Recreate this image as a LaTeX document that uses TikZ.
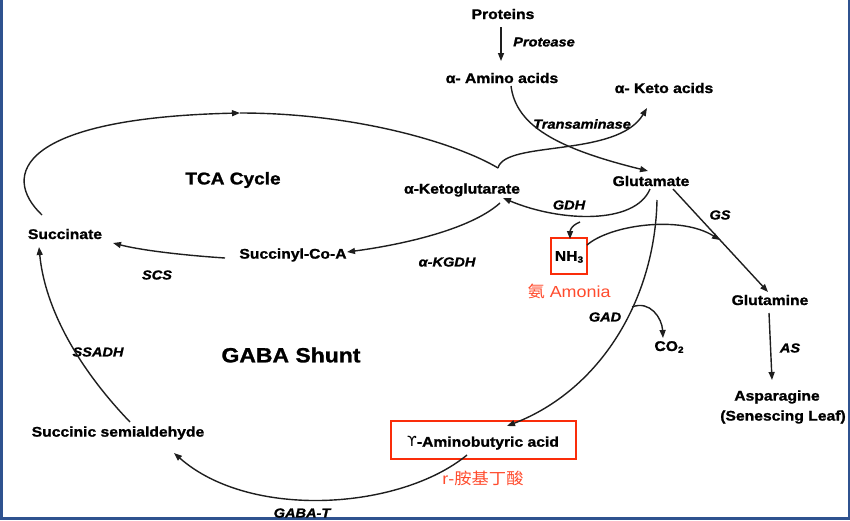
\documentclass[tikz,border=0pt]{standalone}
\usepackage{fontspec}
\setmainfont{Liberation Sans}
\newfontfamily\labfont[FakeStretch=1.12, BoldFeatures={FakeBold=1.3}, BoldItalicFeatures={FakeBold=1.3}]{Liberation Sans}
\newfontfamily\cjkfont[FakeStretch=1.08]{Noto Sans CJK SC}
\newfontfamily\dejavu{DejaVu Sans}
\usetikzlibrary{arrows.meta}
\definecolor{borderB}{RGB}{47,82,143}
\definecolor{redB}{RGB}{250,45,10}
\definecolor{redT}{RGB}{255,75,45}
\definecolor{lineC}{RGB}{30,30,30}
\tikzset{
  lbl/.style={font=\labfont\bfseries\fontsize{14}{16}\selectfont, inner sep=0pt},
  enz/.style={font=\labfont\bfseries\itshape\fontsize{13}{15}\selectfont, inner sep=0pt},
  ttl/.style={font=\labfont\bfseries\fontsize{17}{19}\selectfont, inner sep=0pt},
  ttlbig/.style={font=\labfont\bfseries\fontsize{20.5}{22}\selectfont, inner sep=0pt},
  redtxt/.style={text=redT, font=\labfont\fontsize{16}{18}\selectfont, inner sep=0pt},
  redbox/.style={draw=redB, line width=1.8pt, inner sep=0pt},
  ln/.style={line width=1.4pt, draw=lineC},
  arr/.style={ln, -{Triangle[length=8pt,width=6pt]}},
}
\begin{document}
\begin{tikzpicture}[x=1pt,y=-1pt]
\useasboundingbox (0,0) rectangle (850,520);
% frame
\fill[borderB] (0,0) rectangle (2.5,520);
\fill[borderB] (847.5,0) rectangle (850,520);
\fill[borderB] (0,517) rectangle (850,520);

% nodes
\node[lbl] (prot) at (503,14) {Proteins};
\node[enz] (protease) at (544,42) {Protease};
\node[lbl] (amino) at (502,78) {α- Amino acids};
\node[lbl] (keto) at (664,88) {α- Keto acids};
\node[enz] (transam) at (582,124) {Transaminase};
\node[lbl] (glu) at (651,181) {Glutamate};
\node[lbl] (akg) at (462,190) {α-Ketoglutarate};
\node[enz] (gdh) at (569,205) {GDH};
\node[redbox, minimum width=36pt, minimum height=36pt] (nh3box) at (569,256) {};
\node[lbl] (nh3) at (569,257) {NH\raisebox{-0.25ex}{\fontsize{9}{9}\selectfont 3}};
\node[redtxt] (amonia) at (569,291) {{\cjkfont 氨} Amonia};
\node[enz] (gs) at (720,215) {GS};
\node[lbl] (gln) at (770,300) {Glutamine};
\node[enz] (as) at (790,348) {AS};
\node[lbl] (asp) at (777,397) {Asparagine};
\node[lbl] (sen) at (783,417) {(Senescing Leaf)};
\node[enz] (gad) at (605,317) {GAD};
\node[lbl] (co2) at (669,347) {CO\raisebox{-0.25ex}{\fontsize{9}{9}\selectfont 2}};
\node[ttl] (tca) at (233,180) {TCA Cycle};
\node[lbl] (succ) at (65,234) {Succinate};
\node[lbl] (scoa) at (293,255) {Succinyl-Co-A};
\node[enz] (akgdh) at (447,262) {α-KGDH};
\node[enz] (scs) at (157,275) {SCS};
\node[enz] (ssadh) at (98,352) {SSADH};
\node[ttlbig] (gaba) at (291,355) {GABA Shunt};
\node[lbl] (ssa) at (118,433) {Succinic semialdehyde};
\node[redbox, minimum width=185pt, minimum height=38pt] (gabox) at (483.5,440) {};
\node[lbl] (gabaa) at (483,443) {{\dejavu\mdseries ϒ}-Aminobutyric acid};
\node[redtxt] (gabacjk) at (483,478) {r-{\cjkfont 胺基丁酸}};
\node[enz] (gabat) at (302,513) {GABA-T};

% connector end points
\coordinate (protS) at (501,27);
\coordinate (aminoN) at (501,61);
\coordinate (aminoS) at (511,86);
\coordinate (gluIn) at (648,171);
\coordinate (cusp) at (498,168);
\coordinate (ketoS) at (647,108);
\coordinate (succN) at (42,215);
\coordinate (tcaTop) at (240,113);
\coordinate (gluGDH) at (650,189);
\coordinate (akgE) at (503,198);
\coordinate (nhStart) at (580,222);
\coordinate (nh3N) at (570,239);
\coordinate (nh3E) at (587,245);
\coordinate (gsMid) at (720,240);
\coordinate (gluGS) at (673,189);
\coordinate (glnN) at (768,292);
\coordinate (glnS) at (769,313);
\coordinate (aspN) at (772,380);
\coordinate (gluGAD) at (657,200);
\coordinate (gadIn) at (507,426);
\coordinate (gadBr) at (632,307);
\coordinate (co2N) at (663,338);
\coordinate (gabaS) at (467,455);
\coordinate (ssaE) at (174,453);
\coordinate (ssaN) at (130,422);
\coordinate (succS) at (39,247);
\coordinate (scoaW) at (225,258);
\coordinate (succE) at (113,243);
\coordinate (akgS) at (500,203);
\coordinate (scoaE) at (347,252);

% connectors
\draw[arr] (protS) -- (aminoN);
\draw[arr] (aminoS) .. controls (516,125) and (555,148) .. (gluIn);
\draw[arr] (cusp) .. controls (505,140) and (617,158) .. (ketoS);
\draw[arr] (succN) .. controls (0,175) and (20,118) .. (tcaTop);
\draw[ln] (tcaTop) .. controls (360,113) and (460,145) .. (cusp);
\draw[arr] (gluGDH) .. controls (635,225) and (560,222) .. (akgE);
\draw[arr] (nhStart) .. controls (570,226) and (570,232) .. (nh3N);
\draw[arr] (nh3E) .. controls (610,225) and (680,215) .. (gsMid);
\draw[arr] (gluGS) -- (glnN);
\draw[arr] (glnS) -- (aspN);
\draw[arr] (gluGAD) .. controls (655,300) and (600,390) .. (gadIn);
\draw[arr] (gadBr) .. controls (650,300) and (662,318) .. (co2N);
\draw[arr] (gabaS) .. controls (400,510) and (250,520) .. (ssaE);
\draw[arr] (ssaN) .. controls (80,370) and (45,310) .. (succS);
\draw[arr] (scoaW) .. controls (180,255) and (140,250) .. (succE);
\draw[arr] (akgS) .. controls (470,230) and (400,245) .. (scoaE);
\end{tikzpicture}
\end{document}
